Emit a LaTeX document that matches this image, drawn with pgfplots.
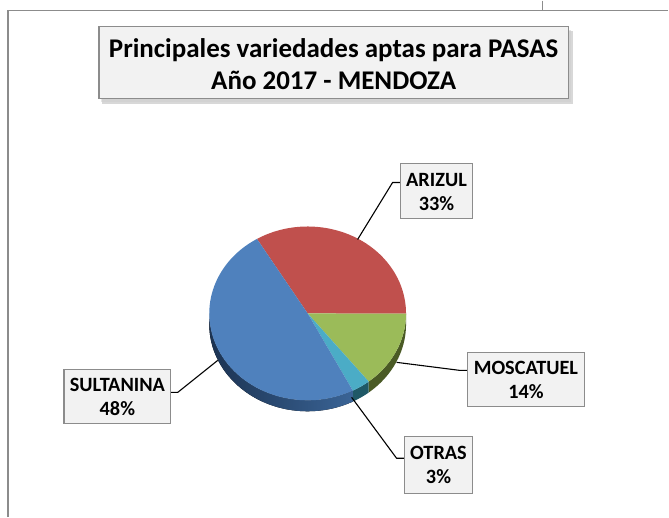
\documentclass[border=0pt]{standalone}
\usepackage{pgfplots}
\pgfplotsset{compat=1.18}
\usepackage{pgfplotstable}
\usepackage{fontspec}
\setmainfont{Carlito}
\definecolor{cArizul}{HTML}{C0504D}
\definecolor{cMosc}{HTML}{9BBB59}
\definecolor{cOtras}{HTML}{4BACC6}
\definecolor{cSult}{HTML}{4F81BD}
\definecolor{sMosc}{HTML}{4A5A25}
\definecolor{sOtras}{HTML}{1F5866}
\definecolor{sSultL}{HTML}{1C3352}
\definecolor{sSultR}{HTML}{3A6496}
\definecolor{boxfill}{HTML}{F2F2F2}
\definecolor{boxline}{HTML}{8C8C8C}
\pgfplotstableread{
name val
ARIZUL 33
MOSCATUEL 14
OTRAS 3
SULTANINA 48
}\piedata
\tikzset{er/.style={x radius=98.5bp, y radius=87bp}}
\begin{document}%
\begin{tikzpicture}
\pgfplotstablegetelem{0}{val}\of\piedata \let\vA\pgfplotsretval
\pgfplotstablegetelem{1}{val}\of\piedata \let\vB\pgfplotsretval
\pgfplotstablegetelem{2}{val}\of\piedata \let\vC\pgfplotsretval
\pgfplotstablegetelem{3}{val}\of\piedata \let\vD\pgfplotsretval
\pgfmathsetmacro\tot{\vA+\vB+\vC+\vD}
\pgfmathsetmacro\unit{360/\tot}
\pgfmathsetmacro\aO{121}
\pgfmathsetmacro\aA{\aO-\unit*\vA}
\pgfmathsetmacro\aB{\aA-\unit*\vB}
\pgfmathsetmacro\aC{\aB-\unit*\vC}
\pgfmathsetmacro\aD{\aC-\unit*\vD}
\begin{axis}[scale only axis, width=669bp, height=517bp,
  xmin=0, xmax=669, ymin=0, ymax=517, y dir=reverse, enlargelimits=false,
  hide axis, clip=false]
% full canvas
\path (axis cs:0,0) rectangle (axis cs:669,517);
% frame lines
\draw[boxline, line width=1.5bp] (axis cs:8,517) -- (axis cs:8,10) -- (axis cs:669,10);
\draw[boxline, line width=1.5bp] (axis cs:543,0) -- (axis cs:543,10);
% title
\fill[black!30, opacity=0.5] (axis cs:102,30) rectangle (axis cs:574,103);
\fill[black!20, opacity=0.5] (axis cs:101,29) rectangle (axis cs:572,101);
\draw[boxline, fill=boxfill, line width=1.3bp] (axis cs:99,26) rectangle (axis cs:569,98);
\node[align=center, font=\fontsize{27bp}{32bp}\selectfont\bfseries] at (axis cs:334,63)
  {Principales variedades aptas para PASAS\\Año 2017 - MENDOZA};
% pie sides
\fill[sMosc] (axis cs:308,313) ++(\aA:98.5bp and 87bp) arc[start angle=\aA, end angle=\aB, er]
  -- ++(0,-11bp) arc[start angle=\aB, end angle=\aA, er] -- cycle;
\fill[sOtras] (axis cs:308,313) ++(\aB:98.5bp and 87bp) arc[start angle=\aB, end angle=\aC, er]
  -- ++(0,-11bp) arc[start angle=\aC, end angle=\aB, er] -- cycle;
\fill[left color=sSultL, right color=sSultR] (axis cs:308,313) ++(\aC:98.5bp and 87bp) arc[start angle=\aC, end angle=-180, er]
  -- ++(0,-11bp) arc[start angle=-180, end angle=\aC, er] -- cycle;
% pie top
\fill[cArizul] (axis cs:308,313) -- ++(\aO:98.5bp and 87bp) arc[start angle=\aO, end angle=\aA, er] -- cycle;
\fill[cMosc] (axis cs:308,313) -- ++(\aA:98.5bp and 87bp) arc[start angle=\aA, end angle=\aB, er] -- cycle;
\fill[cOtras] (axis cs:308,313) -- ++(\aB:98.5bp and 87bp) arc[start angle=\aB, end angle=\aC, er] -- cycle;
\fill[cSult] (axis cs:308,313) -- ++(\aC:98.5bp and 87bp) arc[start angle=\aC, end angle=\aD, er] -- cycle;
% leader lines
\draw[black, line width=1.1bp] (axis cs:358,239) -- (axis cs:393,182) -- (axis cs:401,182);
\draw[black, line width=1.1bp] (axis cs:397,362) -- (axis cs:460,370) -- (axis cs:468,370);
\draw[black, line width=1.1bp] (axis cs:218,360) -- (axis cs:178,392) -- (axis cs:171,392);
\draw[black, line width=1.1bp] (axis cs:352,397) -- (axis cs:397,458) -- (axis cs:405,458);
% label boxes
\tikzset{lab/.style={align=center, font=\fontsize{20.3bp}{24bp}\selectfont\bfseries}}
\draw[boxline, fill=boxfill, line width=1.3bp] (axis cs:401,163) rectangle (axis cs:473,218);
\node[lab] at (axis cs:437,191) {ARIZUL\\33\%};
\draw[boxline, fill=boxfill, line width=1.3bp] (axis cs:468,352) rectangle (axis cs:585,406);
\node[lab] at (axis cs:526.5,379.5) {MOSCATUEL\\14\%};
\draw[boxline, fill=boxfill, line width=1.3bp] (axis cs:64,369) rectangle (axis cs:171,423);
\node[lab] at (axis cs:117.5,396.5) {SULTANINA\\48\%};
\draw[boxline, fill=boxfill, line width=1.3bp] (axis cs:405,436) rectangle (axis cs:473,493);
\node[lab] at (axis cs:439,465) {OTRAS\\3\%};
\end{axis}
\end{tikzpicture}%
\end{document}
